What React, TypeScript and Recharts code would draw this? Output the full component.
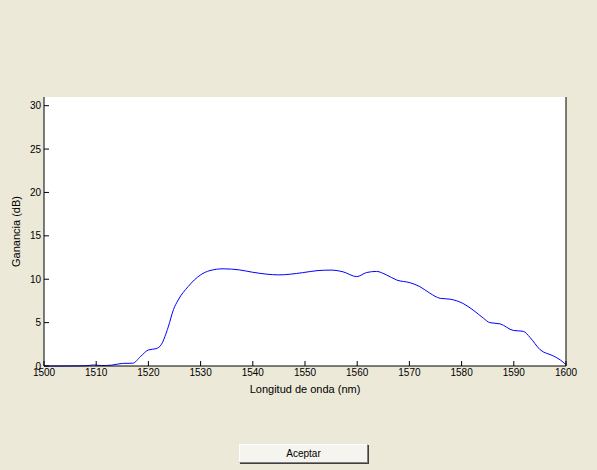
import { LineChart, Line, XAxis, YAxis, CartesianGrid, Label } from 'recharts';

// wavelength (nm) and gain (dB)
const wavelengths = [
  1500, 1504, 1508, 1509.5, 1511, 1513, 1515, 1517, 1518.5, 1520, 1521.5, 1522.5, 1523.8, 1524.8,
  1525.7, 1527.6, 1530, 1531.8, 1534.3, 1537.5, 1540, 1545, 1549.5, 1552.5, 1555, 1557.3, 1559.9,
  1561.8, 1563.7, 1565.6, 1567.6, 1570.1, 1572, 1573.9, 1575.9, 1577.8, 1580.3, 1582.2, 1584.2,
  1585.4, 1587.4, 1589.9, 1591.8, 1593.1, 1595, 1597.6, 1598.9, 1600,
];
const gains = [
  0, 0, 0.02, 0.12, 0.05, 0.1, 0.3, 0.32, 1.1, 1.85, 2.0, 2.5, 4.5, 6.5,
  7.6, 9.15, 10.5, 11.0, 11.2, 11.07, 10.8, 10.5, 10.75, 11.0, 11.05, 10.85, 10.3,
  10.77, 10.9, 10.5, 9.9, 9.6, 9.15, 8.4, 7.8, 7.7, 7.2, 6.45, 5.5,
  5.0, 4.85, 4.1, 4.0, 3.3, 1.9, 1.15, 0.7, 0.15,
];
const xTicks = [1500, 1510, 1520, 1530, 1540, 1550, 1560, 1570, 1580, 1590, 1600];
const yTicks = [0, 5, 10, 15, 20, 25, 30];

const data = wavelengths.map((nm, i) => ({ nm, gain: gains[i] }));

const tickStyle = { fill: '#000', fontSize: 10, fontFamily: 'Liberation Sans, Arial, sans-serif' };
const axisStroke = { stroke: '#000' };

function YTitle(props: any) {
  const vb = props.viewBox || {};
  const x = (vb.x ?? 0) + 16;
  const y = (vb.y ?? 0) + (vb.height ?? 0) / 2;
  return (
    <text
      x={x}
      y={y}
      transform={`rotate(-90 ${x} ${y})`}
      textAnchor="middle"
      dominantBaseline="central"
      fontSize={11}
      fontFamily="Liberation Sans, Arial, sans-serif"
      fill="#000"
    >
      Ganancia (dB)
    </text>
  );
}

export default function App() {
  return (
    <div style={{ position: 'absolute', left: 0, top: 0, width: 597, height: 470, background: '#ECE9D8' }}>
      <LineChart width={597} height={470} data={data} margin={{ top: 97, right: 0, bottom: 0, left: 0 }}>
        <CartesianGrid fill="#fff" horizontal={false} vertical={false} />
        <XAxis
          dataKey="nm"
          type="number"
          domain={[1500, 1600]}
          ticks={xTicks}
          height={104}
          tick={tickStyle}
          tickSize={-5}
          tickMargin={8}
          axisLine={axisStroke}
          tickLine={axisStroke}
          interval={0}
        >
          <Label
            value="Longitud de onda (nm)"
            position="insideTop"
            offset={19}
            fontSize={11}
            fontFamily="Liberation Sans, Arial, sans-serif"
            fill="#000"
          />
        </XAxis>
        <XAxis
          xAxisId="top"
          dataKey="nm"
          type="number"
          orientation="top"
          domain={[1500, 1600]}
          ticks={xTicks}
          height={0}
          tickSize={-5}
          tickFormatter={() => ''}
          axisLine={axisStroke}
          tickLine={axisStroke}
          interval={0}
        />
        <YAxis
          type="number"
          domain={[0, 31]}
          ticks={yTicks}
          width={44}
          tick={tickStyle}
          tickSize={-5}
          tickMargin={8}
          axisLine={axisStroke}
          tickLine={axisStroke}
          interval={0}
          label={<YTitle />}
        />
        <YAxis
          yAxisId="right"
          orientation="right"
          type="number"
          domain={[0, 31]}
          ticks={yTicks}
          width={31}
          tickSize={-5}
          tickFormatter={() => ''}
          axisLine={axisStroke}
          tickLine={axisStroke}
          interval={0}
        />
        <Line
          type="monotone"
          dataKey="gain"
          stroke="#0000ff"
          strokeWidth={1}
          dot={false}
          isAnimationActive={false}
        />
      </LineChart>
      <div
        style={{
          position: 'absolute',
          left: 239,
          top: 444,
          width: 127,
          height: 17,
          background: '#F5F4EF',
          borderTop: '1px solid #fff',
          borderLeft: '1px solid #fff',
          borderRight: '1px solid #7f7f7f',
          borderBottom: '1px solid #7f7f7f',
          boxShadow: '1px 1px 0 #404040',
          fontFamily: 'Liberation Sans, Arial, sans-serif',
          fontSize: 10,
          color: '#000',
          display: 'flex',
          alignItems: 'center',
          justifyContent: 'center',
        }}
      >
        Aceptar
      </div>
    </div>
  );
}
